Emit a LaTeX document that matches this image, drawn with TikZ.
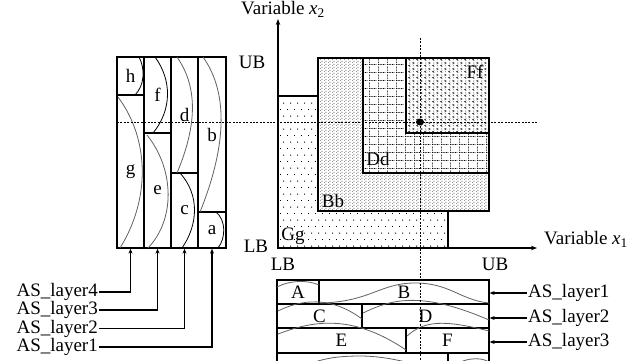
\documentclass[tikz,border=0pt]{standalone}
\usepackage{fontspec}
\setmainfont{Liberation Serif}
\usetikzlibrary{positioning, calc, arrows.meta, patterns.meta}

% fill patterns of the nested regions
\tikzdeclarepattern{
  name=sparsedots, type=uncolored,
  bottom left={(0pt,0pt)}, top right={(7pt,13.4pt)}, tile size={(7pt,13.4pt)},
  code={\fill (0pt,0pt) rectangle (1.1pt,1pt);
        \fill (3.5pt,6.7pt) rectangle (4.6pt,7.7pt);}
}
\tikzdeclarepattern{
  name=densedots, type=uncolored,
  bottom left={(0pt,0pt)}, top right={(4pt,3.2pt)}, tile size={(4pt,3.2pt)},
  code={\fill (0pt,0pt) rectangle (0.9pt,0.9pt);
        \fill (2pt,1.6pt) rectangle (2.9pt,2.5pt);}
}
\tikzdeclarepattern{
  name=dotgrid, type=uncolored,
  bottom left={(0pt,0pt)}, top right={(9pt,8pt)}, tile size={(9pt,8pt)},
  code={\foreach \k in {0,2,4,6} {\fill (0pt,\k pt) rectangle (1pt,\k pt+1pt);}
        \foreach \k in {1.8,3.6,5.4,7.2} {\fill (\k pt,0pt) rectangle (\k pt+1pt,1pt);}}
}
\tikzdeclarepattern{
  name=chevrons, type=uncolored,
  bottom left={(0pt,0pt)}, top right={(8pt,6pt)}, tile size={(8pt,6pt)},
  code={\draw[line width=0.45pt] (2.6pt,0.4pt) -- (0.6pt,1.5pt) -- (2.6pt,2.6pt);
        \draw[line width=0.45pt] (5pt,3.4pt) -- (7pt,4.5pt) -- (5pt,5.6pt);
        \fill (5.6pt,1.1pt) rectangle (6.4pt,1.9pt);
        \fill (1.6pt,4.2pt) rectangle (2.4pt,5pt);}
}

\tikzset{
  lbl/.style={font=\fontsize{19}{20}\selectfont,inner sep=1pt},
  cell/.style={draw,line width=1.3pt,inner sep=0pt,
    font=\fontsize{19}{20}\selectfont},
  rowcell/.style={cell,text depth=0pt},
  region/.style={draw,line width=1.3pt,fill=white,postaction={pattern=#1}},
  wave/.style={line width=0.8pt,draw=#1},
  wave/.default=black!62,
  arr/.style={-{Stealth[length=5pt,width=4pt]},line width=1.1pt},
  axis/.style={-{Stealth[length=6pt,width=4.5pt]},line width=1.3pt},
  guide/.style={line width=0.5pt,dash pattern=on 2pt off 1.4pt},
}

\begin{document}
\begin{tikzpicture}[x=1pt,y=-1pt]
  \useasboundingbox (0,0) rectangle (634,360);
  \clip (0,0) rectangle (634,360);

  % nested regions of the search space
  \path[region=sparsedots] (278,96) rectangle (448,248);
  \path[region=densedots] (318,58) rectangle (489,211);
  \path[region=dotgrid] (363,58) rectangle (489,173);
  \path[region=chevrons] (406,58) rectangle (489,133);
  \node[lbl] (gg) at (293,236) {Gg};
  \node[lbl] (bb) at (333,201) {Bb};
  \node[lbl] (dd) at (378,159) {Dd};
  \node[lbl] (ff) at (475,72) {Ff};

  % axes
  \coordinate (o) at (278,248);
  \coordinate (xtip) at (537,248);
  \coordinate (ytip) at (278,19);
  \draw[axis] (o) -- (xtip);
  \draw[axis] (o) -- (ytip);
  \node[lbl] (xlab) at (586,239) {Variable \textit{x}\textsubscript{1}};
  \node[lbl] (ylab) at (283,9) {Variable \textit{x}\textsubscript{2}};
  \node[lbl] (ubv) at (252,62) {UB};
  \node[lbl] (lbv) at (256,246) {LB};
  \node[lbl] (lbh) at (283,264) {LB};
  \node[lbl] (ubh) at (495,264) {UB};

  % left: four layers stacked as columns
  \node[cell,minimum width=27pt,minimum height=38pt] (h) at (130.5,76) {h};
  \node[cell,minimum width=27pt,minimum height=153pt] (g) at (130.5,171.5) {g};
  \node[cell,minimum width=27pt,minimum height=76pt] (f) at (157.5,95) {f};
  \node[cell,minimum width=27pt,minimum height=115pt] (e) at (157.5,190.5) {e};
  \node[cell,minimum width=27pt,minimum height=116pt] (d) at (184.5,115) {d};
  \node[cell,minimum width=27pt,minimum height=75pt] (c) at (184.5,210.5) {c};
  \node[cell,minimum width=28pt,minimum height=155pt] (b) at (212,134.5) {b};
  \node[cell,minimum width=28pt,minimum height=36pt] (a) at (212,230) {a};
  \draw[wave=black] (139,57) .. controls (145,68) and (145,85) .. (135,95);
  \draw[wave] (118,97) .. controls (150,140) and (150,200) .. (120,248);
  \draw[wave=black] (155,57) .. controls (172,80) and (172,110) .. (153,133);
  \draw[wave] (147,135) .. controls (175,170) and (175,220) .. (148,248);
  \draw[wave] (177,57) .. controls (200,90) and (195,130) .. (177,173);
  \draw[wave=black] (180,173) .. controls (200,195) and (198,225) .. (182,248);
  \draw[wave] (203,57) .. controls (230,95) and (225,150) .. (200,212);
  \draw[wave=black] (216,212) .. controls (226,220) and (226,238) .. (218,248);

  % bottom: the same layers as rows
  \node[rowcell,minimum width=42pt,minimum height=24pt] (A) at (298,292) {A};
  \node[rowcell,minimum width=170pt,minimum height=24pt] (B) at (404,292) {B};
  \node[rowcell,minimum width=85pt,minimum height=24pt] (C) at (319.5,316) {C};
  \node[rowcell,minimum width=127pt,minimum height=24pt] (D) at (425.5,316) {D};
  \node[rowcell,minimum width=129pt,minimum height=25pt] (E) at (341.5,340.5) {E};
  \node[rowcell,minimum width=83pt,minimum height=25pt] (F) at (447.5,340.5) {F};
  \node[rowcell,minimum width=171pt,minimum height=25pt] (G) at (362.5,365.5) {};
  \node[rowcell,minimum width=41pt,minimum height=25pt] (H) at (468.5,365.5) {};
  \draw[wave] (277,287) .. controls (290,280) and (308,280) .. (319,285);
  \draw[wave] (320,303) .. controls (370,302) and (380,283) .. (415,283)
    .. controls (450,283) and (460,300) .. (489,303);
  \draw[wave] (278,311) .. controls (300,300) and (330,295) .. (362,319);
  \draw[wave] (363,313) .. controls (390,300) and (420,290) .. (489,320);
  \draw[wave] (278,334) .. controls (310,322) and (350,312) .. (406,350);
  \draw[wave] (407,336) .. controls (425,320) and (445,320) .. (489,331);
  \draw[wave] (278,380) .. controls (310,360) and (330,356) .. (360,356)
    .. controls (390,356) and (420,365) .. (448,375);
  \draw[wave] (449,370) .. controls (460,358) and (480,356) .. (489,362);

  % optimum and its guide lines
  \coordinate (opt) at (420,122);
  \draw[guide] (420,38) -- (420,362);
  \draw[guide] (117,122) -- (537,122);
  \fill (opt) ellipse [x radius=4, y radius=3.5];

  % layer labels
  \node[lbl,anchor=east] (l4) at (99,292) {AS\_layer4};
  \node[lbl,anchor=east] (l3) at (99,310) {AS\_layer3};
  \node[lbl,anchor=east] (l2) at (99,328.5) {AS\_layer2};
  \node[lbl,anchor=east] (l1) at (99,347) {AS\_layer1};
  \draw[arr] (l4.east) -| (g.south);
  \draw[arr] (l3.east) -| (e.south);
  \draw[arr] (l2.east) -| (c.south);
  \draw[arr] (l1.east) -| (a.south);
  \node[lbl,anchor=west] (r1) at (527,293) {AS\_layer1};
  \node[lbl,anchor=west] (r2) at (527,318) {AS\_layer2};
  \node[lbl,anchor=west] (r3) at (527,342) {AS\_layer3};
  \draw[arr] (r1.west) -- (r1.west -| B.east);
  \draw[arr] (r2.west) -- (r2.west -| D.east);
  \draw[arr] (r3.west) -- (r3.west -| F.east);
\end{tikzpicture}
\end{document}
